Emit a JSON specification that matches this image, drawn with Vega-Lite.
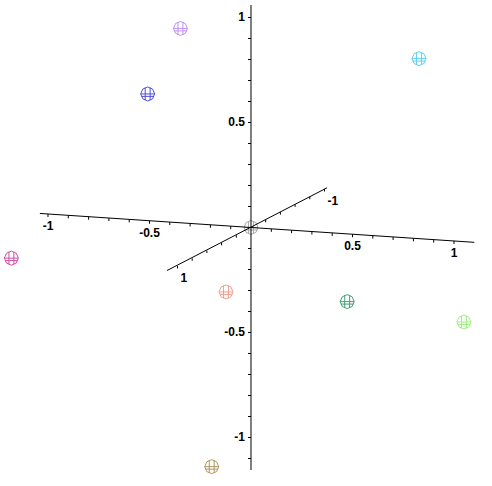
{
  "$schema": "https://vega.github.io/schema/vega-lite/v6.json",
  "width": 492,
  "height": 486,
  "autosize": {"type": "fit", "contains": "padding"},
  "padding": 0,
  "background": "white",
  "config": {"view": {"stroke": null}, "text": {"font": "Liberation Sans", "fontWeight": "bold", "fontSize": 12}},
  "datasets": {
    "points": [
      {"id": "a", "x": -0.336, "y": 0.948},
      {"id": "b", "x": -0.492, "y": 0.636},
      {"id": "c", "x": 0.800, "y": 0.804},
      {"id": "d", "x": -1.141, "y": -0.146},
      {"id": "e", "x": -0.119, "y": -0.307},
      {"id": "f", "x": 0.458, "y": -0.353},
      {"id": "g", "x": 1.014, "y": -0.450},
      {"id": "h", "x": -0.187, "y": -1.139},
      {"id": "i", "x": 0, "y": 0}
    ],
    "axes": [
      {"axis": "v", "x": 0, "y": 1.0595, "x2": 0, "y2": -1.1548},
      {"axis": "h", "x": -1.0053, "y": 0.0669, "x2": 1.0633, "y2": -0.0707},
      {"axis": "d", "x": -0.400, "y": -0.205, "x2": 0.362, "y2": 0.189}
    ],
    "ticks": [
      {"axis": "v", "x": 0, "y": -1.1}, {"axis": "v", "x": 0, "y": -1.0}, {"axis": "v", "x": 0, "y": -0.9},
      {"axis": "v", "x": 0, "y": -0.8}, {"axis": "v", "x": 0, "y": -0.7}, {"axis": "v", "x": 0, "y": -0.6},
      {"axis": "v", "x": 0, "y": -0.5}, {"axis": "v", "x": 0, "y": -0.4}, {"axis": "v", "x": 0, "y": -0.3},
      {"axis": "v", "x": 0, "y": -0.2}, {"axis": "v", "x": 0, "y": -0.1}, {"axis": "v", "x": 0, "y": 0.0},
      {"axis": "v", "x": 0, "y": 0.1}, {"axis": "v", "x": 0, "y": 0.2}, {"axis": "v", "x": 0, "y": 0.3},
      {"axis": "v", "x": 0, "y": 0.4}, {"axis": "v", "x": 0, "y": 0.5}, {"axis": "v", "x": 0, "y": 0.6},
      {"axis": "v", "x": 0, "y": 0.7}, {"axis": "v", "x": 0, "y": 0.8}, {"axis": "v", "x": 0, "y": 0.9},
      {"axis": "v", "x": 0, "y": 1.0},
      {"axis": "h", "x": -0.9667, "y": 0.0643}, {"axis": "h", "x": -0.87, "y": 0.0579},
      {"axis": "h", "x": -0.7733, "y": 0.0514}, {"axis": "h", "x": -0.6767, "y": 0.045},
      {"axis": "h", "x": -0.58, "y": 0.0386}, {"axis": "h", "x": -0.4833, "y": 0.0321},
      {"axis": "h", "x": -0.3867, "y": 0.0257}, {"axis": "h", "x": -0.29, "y": 0.0193},
      {"axis": "h", "x": -0.1933, "y": 0.0129}, {"axis": "h", "x": -0.0967, "y": 0.0064},
      {"axis": "h", "x": 0.0967, "y": -0.0064}, {"axis": "h", "x": 0.1933, "y": -0.0129},
      {"axis": "h", "x": 0.29, "y": -0.0193}, {"axis": "h", "x": 0.3867, "y": -0.0257},
      {"axis": "h", "x": 0.4833, "y": -0.0321}, {"axis": "h", "x": 0.58, "y": -0.0386},
      {"axis": "h", "x": 0.6767, "y": -0.045}, {"axis": "h", "x": 0.7733, "y": -0.0514},
      {"axis": "h", "x": 0.87, "y": -0.0579}, {"axis": "h", "x": 0.9667, "y": -0.0643},
      {"axis": "d", "x": 0.35, "y": 0.1833}, {"axis": "d", "x": 0.28, "y": 0.1467},
      {"axis": "d", "x": 0.21, "y": 0.11}, {"axis": "d", "x": 0.14, "y": 0.0733},
      {"axis": "d", "x": 0.07, "y": 0.0367}, {"axis": "d", "x": -0.07, "y": -0.0367},
      {"axis": "d", "x": -0.14, "y": -0.0733}, {"axis": "d", "x": -0.21, "y": -0.11},
      {"axis": "d", "x": -0.28, "y": -0.1467}, {"axis": "d", "x": -0.35, "y": -0.1833}
    ],
    "labels": [
      {"axis": "v", "label": "1", "x": 0, "y": 1},
      {"axis": "v", "label": "0.5", "x": 0, "y": 0.5},
      {"axis": "v", "label": "-0.5", "x": 0, "y": -0.5},
      {"axis": "v", "label": "-1", "x": 0, "y": -1},
      {"axis": "h", "label": "-1", "x": -0.9667, "y": 0.0643},
      {"axis": "h", "label": "-0.5", "x": -0.4833, "y": 0.0321},
      {"axis": "h", "label": "0.5", "x": 0.4833, "y": -0.0321},
      {"axis": "h", "label": "1", "x": 0.9667, "y": -0.0643},
      {"axis": "d", "label": "1", "x": -0.35, "y": -0.1833},
      {"axis": "d", "label": "-1", "x": 0.35, "y": 0.1833}
    ]
  },
  "encoding": {
    "x": {"field": "x", "type": "quantitative", "scale": {"domain": [-1.1952, 1.1476], "nice": false, "zero": false}, "axis": null},
    "y": {"field": "y", "type": "quantitative", "scale": {"domain": [-1.2310, 1.0833], "nice": false, "zero": false}, "axis": null}
  },
  "layer": [
    {
      "data": {"name": "points"},
      "mark": {
        "type": "point",
        "shape": "M-1,0L-0.7,-0.7L0,-1L0.7,-0.7L1,0L0.7,0.7L0,1L-0.7,0.7Z M-1,0L1,0 M-0.9,0.35L0.9,0.35 M-0.35,-0.9L-0.35,0.9 M0.35,-0.9L0.35,0.9",
        "size": 196,
        "filled": false,
        "strokeWidth": 1,
        "opacity": 1
      },
      "encoding": {
        "color": {
          "field": "id",
          "type": "nominal",
          "legend": null,
          "scale": {
            "domain": ["a", "b", "c", "d", "e", "f", "g", "h", "i"],
            "range": ["#c090f0", "#5050d8", "#60d0f0", "#d050a8", "#f0a090", "#40a078", "#a0f080", "#b09860", "#a8a8a8"]
          }
        }
      }
    },
    {
      "data": {"name": "axes"},
      "mark": {"type": "rule", "color": "black", "strokeWidth": 1},
      "encoding": {
        "x2": {"field": "x2"},
        "y2": {"field": "y2"}
      }
    },
    {
      "data": {"name": "ticks"},
      "transform": [{"filter": "datum.axis == 'v'"}],
      "mark": {"type": "point", "shape": "M0,0L-1,0", "size": 36, "filled": false, "color": "black", "strokeWidth": 1, "opacity": 1},
      "encoding": {}
    },
    {
      "data": {"name": "ticks"},
      "transform": [{"filter": "datum.axis == 'h'"}],
      "mark": {"type": "point", "shape": "M0,0L0,1", "size": 36, "filled": false, "color": "black", "strokeWidth": 1, "opacity": 1},
      "encoding": {}
    },
    {
      "data": {"name": "ticks"},
      "transform": [{"filter": "datum.axis == 'd'"}],
      "mark": {"type": "point", "shape": "M0,0L0,1", "size": 25, "filled": false, "color": "black", "strokeWidth": 1, "opacity": 1},
      "encoding": {}
    },
    {
      "data": {"name": "labels"},
      "transform": [{"filter": "datum.axis == 'v'"}],
      "mark": {"type": "text", "align": "right", "baseline": "middle", "dx": -6, "color": "black"},
      "encoding": {"text": {"field": "label"}}
    },
    {
      "data": {"name": "labels"},
      "transform": [{"filter": "datum.axis == 'h'"}],
      "mark": {"type": "text", "align": "center", "baseline": "middle", "dy": 12, "color": "black"},
      "encoding": {"text": {"field": "label"}}
    },
    {
      "data": {"name": "labels"},
      "transform": [{"filter": "datum.axis == 'd'"}],
      "mark": {"type": "text", "align": "left", "baseline": "middle", "dx": 3, "dy": 12, "color": "black"},
      "encoding": {"text": {"field": "label"}}
    }
  ]
}
